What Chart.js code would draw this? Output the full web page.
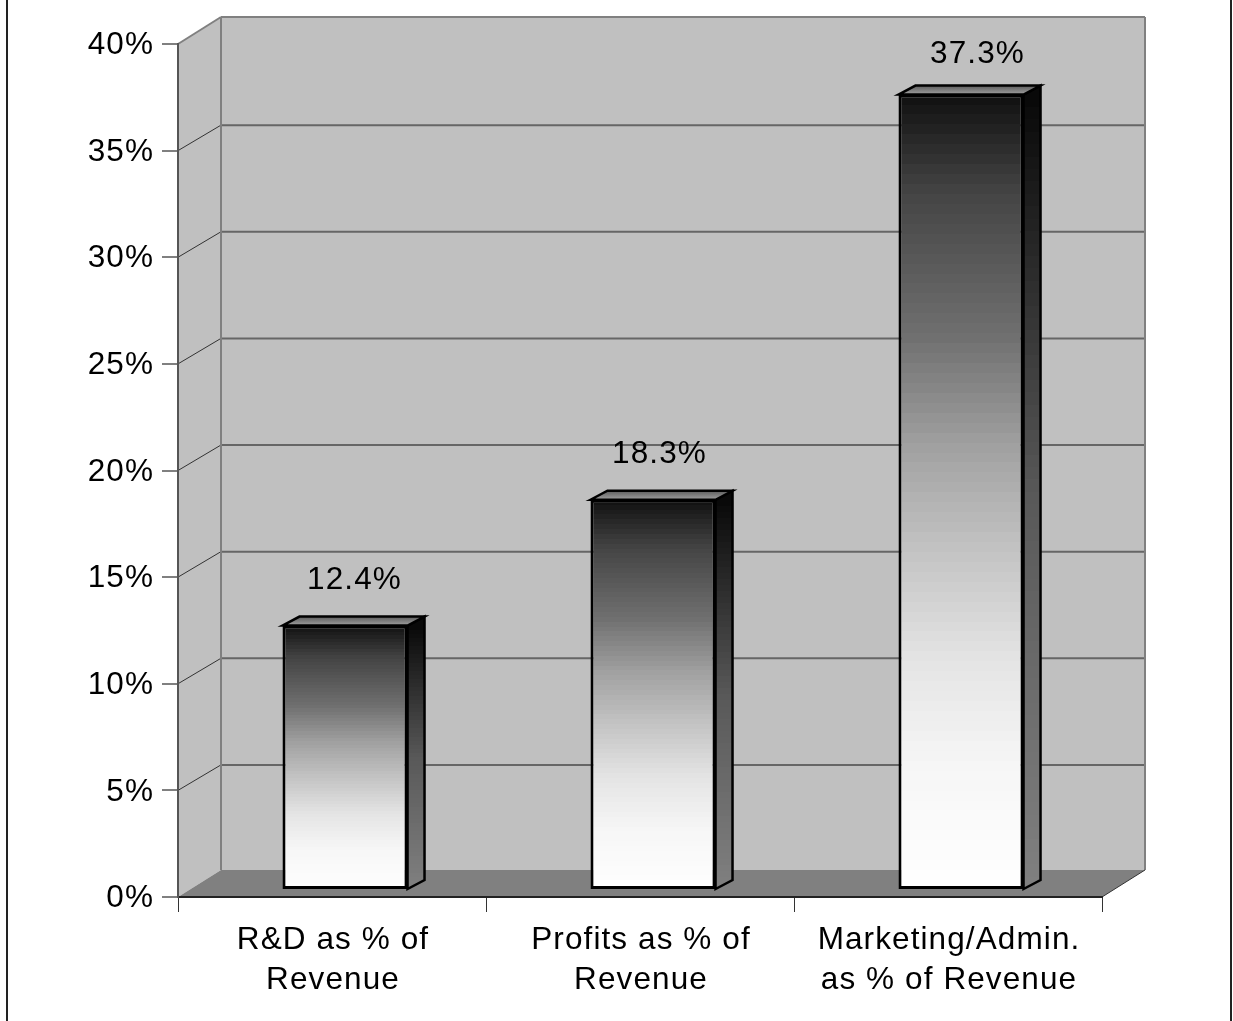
<!DOCTYPE html>
<html>
<head>
<meta charset="utf-8">
<title>Revenue shares</title>
<style>
  html, body { margin: 0; padding: 0; background: #fff; }
  canvas { display: block; }
</style>
<script src="https://cdn.jsdelivr.net/npm/chart.js@4"></script>
</head>
<body>
<canvas id="chart" width="1233" height="1021"></canvas>
<script>
const categories = [
  ['R&D as % of', 'Revenue'],
  ['Profits as % of', 'Revenue'],
  ['Marketing/Admin.', 'as % of Revenue']
];
const shares = [12.4, 18.3, 37.3];
const valueLabels = ['12.4%', '18.3%', '37.3%'];

const FONT = '"Liberation Sans", Arial, sans-serif';
const WALL_DX = 43, WALL_DY = 27;   // depth of the box
const BAR_DX = 13, BAR_DY = 7;      // bars stand inside the box
const SIDE_DX = 17, SIDE_DY = 9;    // depth of one bar
const LABEL_SHIFT = [9.5, 6.5, 16.5];

// grey level along a bar, top to bottom
const frontRamp = [[0, 0x10], [0.123, 0x44], [0.306, 0x70], [0.44, 0xa0], [0.576, 0xc4], [0.71, 0xe4], [0.845, 0xf6], [1, 0xff]];
const sideRamp = [[0, 0x08], [0.5, 0x58], [1, 0x80]];

function grey(ramp, t) {
  for (let i = 1; i < ramp.length; i++) {
    if (t <= ramp[i][0]) {
      const a = ramp[i - 1], b = ramp[i];
      const v = Math.round(a[1] + (b[1] - a[1]) * (t - a[0]) / (b[0] - a[0]));
      return 'rgb(' + v + ',' + v + ',' + v + ')';
    }
  }
  return '#fff';
}

// banded vertical gradient, the steps show on tall bars
function bandedGradient(ctx, ramp, top, bottom, bands) {
  const g = ctx.createLinearGradient(0, top, 0, bottom);
  for (let i = 0; i < bands; i++) {
    const c = grey(ramp, (i + 0.5) / bands);
    g.addColorStop(i / bands, c);
    g.addColorStop((i + 1) / bands, c);
  }
  return g;
}

function polygon(ctx, pts, fill, stroke, lineWidth) {
  ctx.beginPath();
  pts.forEach((p, i) => i ? ctx.lineTo(p[0], p[1]) : ctx.moveTo(p[0], p[1]));
  ctx.closePath();
  if (fill) { ctx.fillStyle = fill; ctx.fill(); }
  if (stroke) { ctx.strokeStyle = stroke; ctx.lineWidth = lineWidth; ctx.lineJoin = 'miter'; ctx.stroke(); }
}

function line(ctx, x1, y1, x2, y2, color, width) {
  ctx.beginPath();
  ctx.moveTo(x1, y1);
  ctx.lineTo(x2, y2);
  ctx.strokeStyle = color;
  ctx.lineWidth = width;
  ctx.stroke();
}

const boxPlugin = {
  id: 'box',
  beforeDraw(chart) {
    const ctx = chart.ctx, a = chart.chartArea, y = chart.scales.y;
    ctx.letterSpacing = '1.1px';

    // outer frame, sides only
    line(ctx, 7, 0, 7, 1021, '#222', 2);
    line(ctx, 1231, 0, 1231, 1021, '#222', 2);

    const bl = a.left + WALL_DX, br = a.right + WALL_DX;
    const bt = a.top - WALL_DY, bb = a.bottom - WALL_DY;

    polygon(ctx, [[bl, bt], [br, bt], [br, bb], [bl, bb]], '#c0c0c0', null);
    polygon(ctx, [[a.left, a.top], [bl, bt], [bl, bb], [a.left, a.bottom]], '#c0c0c0', null);
    polygon(ctx, [[a.left, a.bottom], [bl, bb], [br, bb], [a.right, a.bottom]], '#808080', null);

    y.ticks.forEach(t => {
      const py = y.getPixelForValue(t.value);
      if (t.value > 0 && t.value < 40) {
        line(ctx, bl, py - WALL_DY + 1.5, br, py - WALL_DY + 1.5, '#666', 2);
        line(ctx, a.left, py, bl, py - WALL_DY + 1.5, '#333', 1);
      }
    });

    line(ctx, bl, bt, br, bt, '#808080', 2);
    line(ctx, br, bt, br, bb, '#808080', 2);
    line(ctx, bl, bt, bl, bb, '#808080', 2);
    line(ctx, a.left, a.top, bl, bt, '#808080', 2);
    line(ctx, a.right, a.bottom, br, bb, '#333', 1);
  },
  beforeDatasetDraw(chart, args) {
    const ctx = chart.ctx;
    ctx.save();
    ctx.translate(BAR_DX, -BAR_DY);
    args.meta.data.forEach(bar => {
      const l = bar.x - bar.width / 2, r = bar.x + bar.width / 2;
      const side = bandedGradient(ctx, sideRamp, bar.y, bar.base, 64);
      polygon(ctx, [[r, bar.y], [r + SIDE_DX, bar.y - SIDE_DY], [r + SIDE_DX, bar.base - SIDE_DY], [r, bar.base]], side, '#000', 2.5);
      const lid = ctx.createLinearGradient(0, bar.y - SIDE_DY, 0, bar.y);
      lid.addColorStop(0, '#5c5c5c');
      lid.addColorStop(1, '#a0a0a0');
      polygon(ctx, [[l, bar.y], [l + SIDE_DX, bar.y - SIDE_DY], [r + SIDE_DX, bar.y - SIDE_DY], [r, bar.y]], lid, '#000', 2.5);
    });
  },
  afterDatasetDraw(chart) {
    chart.ctx.restore();
  },
  afterDatasetsDraw(chart) {
    const ctx = chart.ctx;
    const bars = chart.getDatasetMeta(0).data;
    ctx.save();
    ctx.font = '31.5px ' + FONT;
    ctx.fillStyle = '#000';
    ctx.textAlign = 'center';
    ctx.textBaseline = 'middle';
    valueLabels.forEach((txt, i) => {
      const top = bars[i].y - BAR_DY;
      ctx.fillText(txt, bars[i].x + BAR_DX + LABEL_SHIFT[i], Math.max(54, top - 45));
    });
    ctx.restore();
  }
};

new Chart(document.getElementById('chart'), {
  type: 'bar',
  plugins: [boxPlugin],
  data: {
    labels: categories,
    datasets: [{
      data: shares,
      barPercentage: 0.406,
      categoryPercentage: 1,
      borderColor: '#000',
      borderWidth: 3,
      borderSkipped: false,
      clip: false,
      backgroundColor(c) {
        const chart = c.chart;
        if (!chart.chartArea) return '#888';
        const y = chart.scales.y;
        return bandedGradient(chart.ctx, frontRamp, y.getPixelForValue(c.raw), y.getPixelForValue(0), 80);
      }
    }]
  },
  options: {
    responsive: false,
    animation: false,
    layout: { padding: { top: 44, right: 131, left: 0, bottom: 0 } },
    plugins: { legend: { display: false }, tooltip: { enabled: false } },
    scales: {
      x: {
        afterFit(s) { s.height = 124; },
        grid: { drawOnChartArea: false, offset: true, color: '#333', tickLength: 15 },
        border: { color: '#222', width: 2 },
        ticks: { color: '#000', padding: 8, labelOffset: 1, maxRotation: 0, autoSkip: false, font: { family: FONT, size: 31.5, lineHeight: 1.27 } }
      },
      y: {
        min: 0,
        max: 40,
        afterFit(s) { s.width = 178; },
        grid: { drawOnChartArea: false, color: '#808080', tickLength: 16, lineWidth: 2 },
        border: { color: '#555', width: 2 },
        ticks: { stepSize: 5, color: '#000', padding: 8, labelOffset: 1.5, callback: v => v + '%', font: { family: FONT, size: 31.5 } }
      }
    }
  }
});
</script>
</body>
</html>
